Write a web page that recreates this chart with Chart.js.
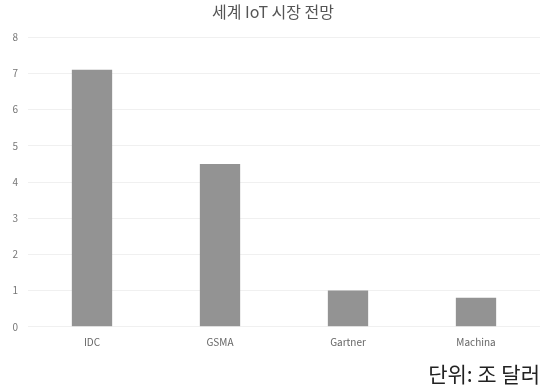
<!DOCTYPE html>
<html>
<head>
<meta charset="utf-8">
<script src="https://cdn.jsdelivr.net/npm/chart.js@4/dist/chart.umd.min.js"></script>
<style>
  html, body { margin: 0; padding: 0; background: #fff; }
  #wrap { width: 547px; height: 387px; position: relative; }
</style>
</head>
<body>
<div id="wrap"><canvas id="iotChart"></canvas></div>
<script>
// 데이터
const categories = ["IDC", "GSMA", "Gartner", "Machina"];
const marketValues = [7.1, 4.5, 1.0, 0.8];
const yTicks = [0, 1, 2, 3, 4, 5, 6, 7, 8];

const fontFamily = "'Noto Sans CJK KR', 'Noto Sans', sans-serif";

new Chart(document.getElementById("iotChart"), {
    type: "bar",
    data: {
        labels: categories,
        datasets: [{
            label: "세계 IoT 시장 전망",
            data: marketValues,
            backgroundColor: "#939393",
            barPercentage: 0.315,
            categoryPercentage: 1.0
        }]
    },
    options: {
        responsive: true,
        maintainAspectRatio: false,
        animation: false,
        layout: { padding: { left: 6, right: 7, top: 0, bottom: 0 } },
        plugins: {
            legend: { display: false },
            tooltip: { enabled: false },
            title: {
                display: true,
                text: "세계 IoT 시장 전망",
                color: "#555",
                font: { family: fontFamily, size: 16, weight: "normal" },
                padding: { top: 2, bottom: 16 }
            },
            subtitle: {
                display: true,
                position: "bottom",
                align: "end",
                text: "단위: 조 달러",
                color: "#222",
                font: { family: fontFamily, size: 21, weight: "normal" },
                padding: { top: 13, bottom: 0 }
            }
        },
        scales: {
            x: {
                grid: { display: false },
                border: { display: false },
                ticks: {
                    color: "#666",
                    font: { family: fontFamily, size: 10 },
                    padding: 1
                }
            },
            y: {
                min: 0,
                max: 8,
                afterBuildTicks: (axis) => { axis.ticks = yTicks.map(v => ({ value: v })); },
                afterFit: (axis) => { axis.width = 22; },
                grid: { color: "#f0f0f0", drawTicks: false },
                border: { display: false },
                ticks: {
                    color: "#777",
                    font: { family: fontFamily, size: 10 },
                    padding: 10
                }
            }
        }
    }
});
</script>
</body>
</html>
